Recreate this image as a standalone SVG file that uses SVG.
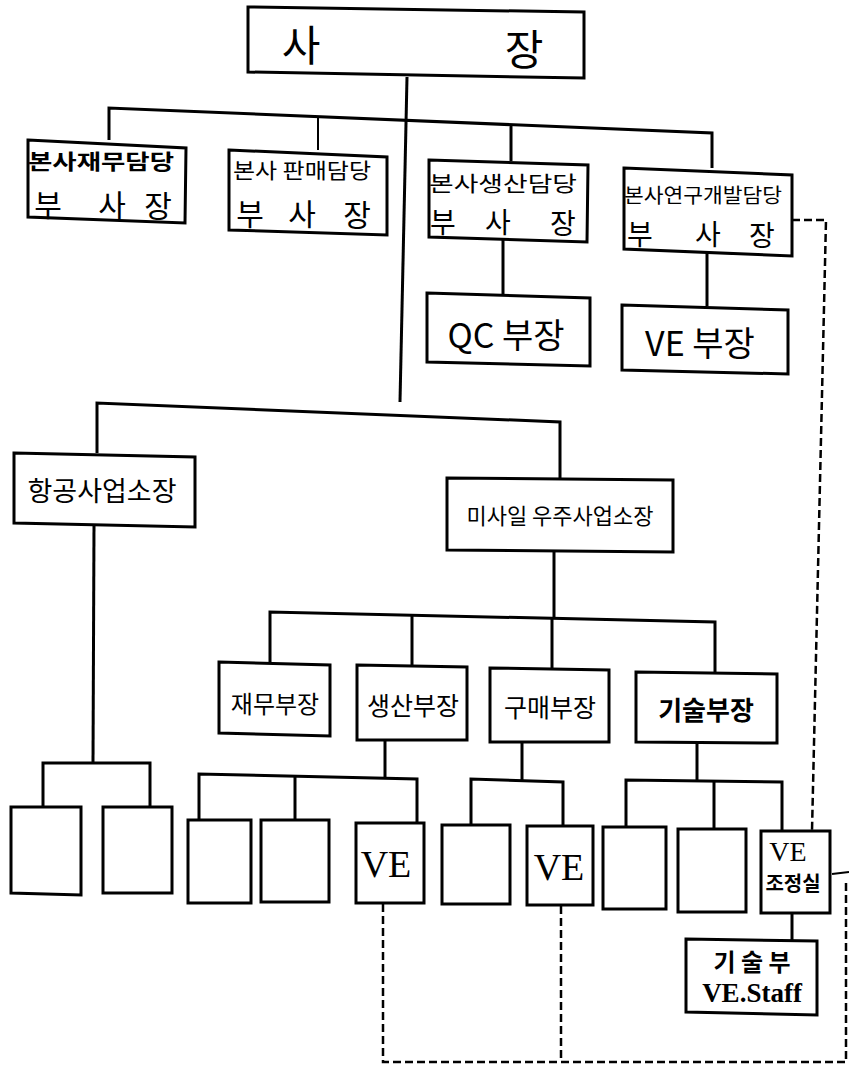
<svg xmlns="http://www.w3.org/2000/svg" width="849" height="1070" viewBox="0 0 849 1070">
<style>
.box{fill:#fff;stroke:#000;stroke-width:3;stroke-linejoin:miter}
.ln{fill:none;stroke:#000;stroke-width:3}
.thin{fill:none;stroke:#000;stroke-width:2}
.dash{fill:none;stroke:#000;stroke-width:2.5;stroke-dasharray:8 4}
.k{font-family:"Noto Sans CJK KR","Noto Sans",sans-serif;fill:#000;text-anchor:middle;dominant-baseline:central}
.s{font-family:"Liberation Serif",serif;fill:#000;text-anchor:middle;dominant-baseline:central}
</style>
<rect width="849" height="1070" fill="#fff"/>
<g id="connectors">
<polyline class="ln" points="407,77 400,402"/>
<polyline class="ln" points="109,140 109,108 712,133 712,168"/>
<polyline class="thin" points="318,150 318,116"/>
<polyline class="ln" points="511,161 511,125"/>
<polyline class="ln" points="503,239 503,294"/>
<polyline class="ln" points="707,252 707,306"/>
<polyline class="ln" points="97,453 97,403 560,422 560,479"/>
<polyline class="ln" points="554,551 554,617"/>
<polyline class="ln" points="270,662 270,612 715,622 715,672"/>
<polyline class="ln" points="412,614 412,665"/>
<polyline class="ln" points="552,618 552,668"/>
<polyline class="ln" points="94,525 93,762"/>
<polyline class="ln" points="43,807 43,763 150,763 150,807"/>
<polyline class="ln" points="385,740 385,777"/>
<polyline class="ln" points="199,820 199,774 417,779 417,823"/>
<polyline class="ln" points="295,776 295,820"/>
<polyline class="ln" points="522,742 522,780"/>
<polyline class="ln" points="471,825 471,779 563,782 563,826"/>
<polyline class="ln" points="697,743 697,781"/>
<polyline class="ln" points="626,827 626,780 782,782 782,831"/>
<polyline class="ln" points="714,781 714,829"/>
<polyline class="ln" points="792,912 792,940"/>
<polyline class="thin" points="832,874 849,872"/>
<polyline class="dash" points="792,220 826,220 812,831"/>
<polyline class="dash" points="383,904 383,1062 846,1062 846,880"/>
<polyline class="dash" points="561,906 561,1062"/>
</g>
<g id="president">
<polygon class="box" points="248,7 584,12 584,78 248,72"/>
<text class="k" x="301" y="42" font-size="42">사</text>
<text class="k" x="524" y="46" font-size="42">장</text>
</g>
<g id="vp-finance">
<polygon class="box" points="28,140 186,148 185,223 28,217"/>
<text class="k" x="101" y="160" font-size="21" font-weight="bold" textLength="146" lengthAdjust="spacingAndGlyphs">본사재무담당</text>
<text class="k" x="48" y="203" font-size="30">부</text>
<text class="k" x="112" y="203" font-size="30">사</text>
<text class="k" x="158" y="204" font-size="30">장</text>
</g>
<g id="vp-sales">
<polygon class="box" points="229,150 387,157 387,235 229,230"/>
<text class="k" x="302" y="169" font-size="21" textLength="138" lengthAdjust="spacingAndGlyphs">본사 판매담당</text>
<text class="k" x="250" y="212" font-size="30">부</text>
<text class="k" x="302" y="212" font-size="30">사</text>
<text class="k" x="357" y="213" font-size="30">장</text>
</g>
<g id="vp-production">
<polygon class="box" points="429,160 588,165 587,242 429,237"/>
<text class="k" x="503" y="182" font-size="21" textLength="148" lengthAdjust="spacingAndGlyphs">본사생산담당</text>
<text class="k" x="443" y="221" font-size="28">부</text>
<text class="k" x="498" y="221" font-size="28">사</text>
<text class="k" x="563" y="222" font-size="28">장</text>
</g>
<g id="vp-rnd">
<polygon class="box" points="624,168 792,175 792,256 624,249"/>
<text class="k" x="703" y="194" font-size="20" textLength="158" lengthAdjust="spacingAndGlyphs">본사연구개발담당</text>
<text class="k" x="640" y="233" font-size="28">부</text>
<text class="k" x="708" y="233" font-size="28">사</text>
<text class="k" x="762" y="234" font-size="28">장</text>
</g>
<g id="qc-manager">
<polygon class="box" points="427,293 590,298 590,366 427,362"/>
<text class="k" x="506" y="333" font-size="34">QC 부장</text>
</g>
<g id="ve-manager">
<polygon class="box" points="622,305 788,310 788,374 622,370"/>
<text class="k" x="700" y="341" font-size="34">VE 부장</text>
</g>
<g id="aviation">
<polygon class="box" points="14,453 195,457 195,527 14,523"/>
<text class="k" x="102" y="489" font-size="27">항공사업소장</text>
</g>
<g id="missile-space">
<polygon class="box" points="447,478 673,480 673,552 447,550"/>
<text class="k" x="560" y="514" font-size="22">미사일 우주사업소장</text>
</g>
<g id="dept-finance">
<polygon class="box" points="219,662 330,665 330,736 219,733"/>
<text class="k" x="275" y="702" font-size="24">재무부장</text>
</g>
<g id="dept-production">
<polygon class="box" points="357,665 467,667 467,740 357,740"/>
<text class="k" x="413" y="704" font-size="25">생산부장</text>
</g>
<g id="dept-purchase">
<polygon class="box" points="490,668 609,670 609,742 490,742"/>
<text class="k" x="550" y="706" font-size="25">구매부장</text>
</g>
<g id="dept-tech">
<polygon class="box" points="636,672 777,674 777,743 636,742"/>
<text class="k" x="706" y="708" font-size="26" font-weight="bold">기술부장</text>
</g>
<g id="av-unit-1"><polygon class="box" points="11,807 81,807 81,895 11,893"/></g>
<g id="av-unit-2"><polygon class="box" points="103,807 172,807 172,893 103,893"/></g>
<g id="prod-unit-1"><polygon class="box" points="188,820 251,820 251,903 188,903"/></g>
<g id="prod-unit-2"><polygon class="box" points="261,820 329,820 329,902 261,902"/></g>
<g id="prod-ve">
<polygon class="box" points="356,823 424,823 424,903 356,903"/>
<text class="s" x="386" y="864" font-size="38">VE</text>
</g>
<g id="pur-unit-1"><polygon class="box" points="442,825 510,825 510,904 442,904"/></g>
<g id="pur-ve">
<polygon class="box" points="527,826 593,826 593,905 527,905"/>
<text class="s" x="559" y="867" font-size="38">VE</text>
</g>
<g id="tech-unit-1"><polygon class="box" points="603,827 666,827 666,909 603,909"/></g>
<g id="tech-unit-2"><polygon class="box" points="678,829 746,829 746,912 678,912"/></g>
<g id="ve-coordination">
<polygon class="box" points="761,831 830,831 830,913 761,913"/>
<text class="s" x="788" y="851" font-size="28">VE</text>
<text class="k" x="793" y="882" font-size="20" font-weight="bold">조정실</text>
</g>
<g id="tech-ve-staff">
<polygon class="box" points="686,939 817,941 817,1015 686,1012"/>
<text class="k" x="752" y="960" font-size="24" font-weight="bold">기 술 부</text>
<text class="s" x="752" y="993" font-size="27" font-weight="bold">VE.Staff</text>
</g>
</svg>
